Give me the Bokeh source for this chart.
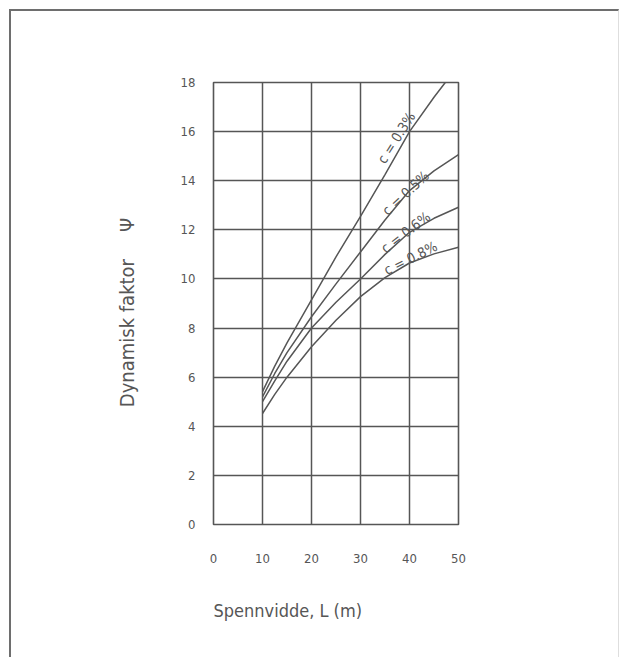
from bokeh.plotting import figure
from bokeh.models import Label, FixedTicker, Range1d, Title
from bokeh.embed import file_html
from bokeh.resources import INLINE

FONT = "DejaVu Sans Condensed, Liberation Sans Narrow, Roboto, sans-serif"
INK = "#565656"

# Span L (m) and dynamic factor psi
span_c03 = [10, 12.5, 15, 20, 25, 30, 35, 40, 45, 47.3]
psi_c03 = [5.41, 6.45, 7.4, 9.15, 10.9, 12.55, 14.25, 16.0, 17.4, 18.0]

span_std = [10, 12.5, 15, 20, 25, 30, 35, 40, 45, 50]
psi_c05 = [5.20, 6.15, 7.0, 8.46, 9.8, 11.1, 12.4, 13.6, 14.4, 15.06]
psi_c06 = [5.00, 5.85, 6.65, 8.0, 9.05, 10.0, 11.0, 11.9, 12.47, 12.92]
psi_c08 = [4.52, 5.30, 6.0, 7.24, 8.32, 9.28, 10.05, 10.65, 11.02, 11.29]

curve_labels = ["c = 0.3%", "c = 0.5%", "c = 0.6%", "c = 0.8%"]
label_x = [37.3, 39.2, 39.2, 40.2]
label_y = [15.75, 13.5, 11.9, 10.85]
label_angle_deg = [57.6, 42.7, 37.5, 26.5]

x_ticks = [0, 10, 20, 30, 40, 50]
y_ticks = [0, 2, 4, 6, 8, 10, 12, 14, 16, 18]

p = figure(width=610, height=648, output_backend="svg", toolbar_location=None,
           x_range=Range1d(0, 50), y_range=Range1d(0, 18),
           min_border_left=202, min_border_right=163,
           min_border_top=71, min_border_bottom=135)
p.styles = {"position": "relative", "left": "9px", "top": "9px",
            "border-top": "2px solid #6e6e6e", "border-left": "2px solid #6e6e6e",
            "border-right": "1px solid #dedede"}

p.outline_line_color = INK
p.outline_line_width = 1.6
p.outline_line_alpha = 1.0

for ax in (p.xaxis[0], p.yaxis[0]):
    ax.axis_line_color = None
    ax.major_tick_line_color = None
    ax.minor_tick_line_color = None
    ax.major_label_text_font = FONT
    ax.major_label_text_font_size = "13px"
    ax.major_label_text_color = INK
    ax.axis_label_text_font = FONT
    ax.axis_label_text_font_style = "normal"
    ax.axis_label_text_color = INK

p.xaxis.ticker = FixedTicker(ticks=x_ticks)
p.yaxis.ticker = FixedTicker(ticks=y_ticks)
p.xaxis.major_label_standoff = 23
p.yaxis.major_label_standoff = 12

p.yaxis.axis_label = "Dynamisk faktor\u2003\u2002\u03a8\u2003"
p.yaxis.axis_label_text_font_size = "20px"
p.yaxis.axis_label_standoff = 39

p.add_layout(Title(text="Spennvidde, L (m)", align="left", standoff=64,
                   vertical_align="bottom",
                   text_font=FONT, text_font_size="18px", text_font_style="normal",
                   text_color=INK), "below")

p.xgrid.ticker = FixedTicker(ticks=x_ticks)
p.ygrid.ticker = FixedTicker(ticks=y_ticks)
for g in (p.xgrid[0], p.ygrid[0]):
    g.grid_line_color = INK
    g.grid_line_width = 1.5
    g.grid_line_alpha = 1.0

for xs, ys in ((span_c03, psi_c03), (span_std, psi_c05), (span_std, psi_c06), (span_std, psi_c08)):
    p.line(xs, ys, line_color=INK, line_width=1.5)

for t, lx, ly, a in zip(curve_labels, label_x, label_y, label_angle_deg):
    p.add_layout(Label(x=lx, y=ly, text=t, angle=a, angle_units="deg",
                       text_align="center", text_baseline="middle",
                       text_font=FONT, text_font_size="14px", text_color=INK))

open("out.html", "w").write(file_html(p, INLINE))
